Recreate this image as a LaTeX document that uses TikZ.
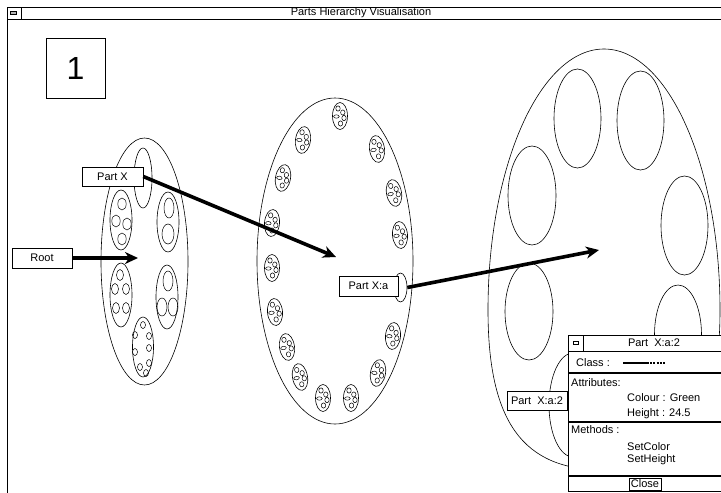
\documentclass[tikz,border=0pt]{standalone}
\usepackage{fontspec}
\setmainfont{Liberation Sans}
\usetikzlibrary{arrows.meta,shapes.geometric}
\begin{document}
\begin{tikzpicture}[x=1pt,y=-1pt,
  every node/.style={font=\fontsize{11}{12}\selectfont},
  label box/.style={draw, fill=white, line width=0.6pt, minimum width=60pt,
    minimum height=19pt, inner sep=0pt},
  outline/.style={line width=0.6pt},
  thick arrow/.style={line width=3.6pt, -{Stealth[length=13pt,width=12pt,inset=4pt]}},
  cell/.pic={
    \draw[outline] (0,0) ellipse [x radius=7.5, y radius=13.5];
    \draw[line width=0.5pt] (-2,-7.5) ellipse [x radius=2.2, y radius=2.6];
    \draw[line width=0.5pt] (2.8,-3.5) ellipse [x radius=2.2, y radius=2.6];
    \draw[line width=0.5pt] (-3.6,0.5) ellipse [x radius=2.8, y radius=1.7];
    \draw[line width=0.5pt] (4,2) ellipse [x radius=2.2, y radius=2.6];
    \draw[line width=0.5pt] (0.5,7.5) ellipse [x radius=2.2, y radius=2.6];
  }]
\useasboundingbox (0,0) rectangle (721,493);
\clip (0,0) rectangle (721,493);

% window frame and title bar
\draw[outline] (7,7) -- (721,7);
\draw[outline] (7,19) -- (721,19);
\draw[outline] (7,7) -- (7,493);
\draw[outline] (21,7) -- (21,19);
\draw[line width=0.6pt, fill=gray!60] (10.5,11.5) rectangle (16.5,14);
\node (title) at (361,13) {Parts Hierarchy Visualisation};

% level number
\node[draw, line width=0.6pt, minimum width=59pt, minimum height=60pt, inner sep=0pt,
  font=\fontsize{32}{34}\selectfont] (level) at (75.5,68) {1};

% ---- root part ----
\draw[outline] (144.5,261.5) ellipse [x radius=43.5, y radius=123.5];
\draw[outline] (143,178) ellipse [x radius=9, y radius=30];
% upper left child
\draw[outline] (121,220) ellipse [x radius=11, y radius=30];
\foreach \p in {(122,204),(116,221),(127,224),(122,239)}
  \draw[line width=0.5pt] \p ellipse [x radius=4.2, y radius=6];
% upper right child
\draw[outline] (168,222) ellipse [x radius=11, y radius=30];
\draw[line width=0.5pt] (169,208) ellipse [x radius=5, y radius=10];
\draw[line width=0.5pt] (168,234) ellipse [x radius=6, y radius=10];
% middle left child
\draw[outline] (121,295) ellipse [x radius=11, y radius=32];
\foreach \p in {(120,275),(115,289),(126,289),(116,308),(126,308)}
  \draw[line width=0.5pt] \p ellipse [x radius=3.5, y radius=5.5];
% middle right child
\draw[outline] (167,297) ellipse [x radius=11, y radius=32];
\draw[line width=0.5pt] (168,281) ellipse [x radius=5, y radius=10];
\draw[line width=0.5pt] (162,307) ellipse [x radius=5, y radius=9];
\draw[line width=0.5pt] (173,307) ellipse [x radius=5, y radius=9];
% bottom child
\draw[outline] (143,347) ellipse [x radius=10.5, y radius=30];
\foreach \p in {(143,325),(135,335),(149,336),(135,352),(149,348),(149,363),(140,367),(146,373)}
  \draw[line width=0.5pt] \p ellipse [x radius=2.5, y radius=3.5];

% ---- Part X ----
\draw[outline] (335,261) ellipse [x radius=78, y radius=163];
\foreach \x/\y/\a in {340/116/0, 303/140/-8, 377/149/8, 283/178/-10, 394/193/10,
  272/223/-5, 400/235/5, 272/268/0, 275/312/5, 287/347/8, 300/377/10,
  323/398/0, 351/398/0, 378/373/-10, 393/336/-5}
  \pic[rotate=\a] at (\x,\y) {cell};
\node[draw, fill=white, line width=0.6pt, ellipse, minimum width=13pt, minimum height=29pt,
  inner sep=0pt] (xa) at (400.5,287.5) {};

% ---- Part X:a ----
\draw[outline] (488,310) arc [start angle=180, end angle=360, x radius=116, y radius=261]
  .. controls (720,422) and (685,470) .. (604,470)
  .. controls (523,470) and (488,422) .. (488,310);
\draw[outline] (577.5,118.5) ellipse [x radius=23.5, y radius=49.5];
\draw[outline] (640.5,120.5) ellipse [x radius=23.5, y radius=49.5];
\draw[outline] (532,195.5) ellipse [x radius=24, y radius=49.5];
\draw[outline] (684.5,225.5) ellipse [x radius=23.5, y radius=49.5];
\draw[outline] (529,311.5) ellipse [x radius=24, y radius=48.5];
\draw[outline] (678,334.5) ellipse [x radius=23.5, y radius=49.5];
\draw[outline] (573,405) ellipse [x radius=24, y radius=52];

% ---- labels ----
\node[label box, minimum height=20pt] (root) at (42,258) {Root};
\node[label box, minimum width=61pt] (partx) at (112.5,176.5) {Part X};
\node[label box, minimum width=59pt, minimum height=20pt] (partxa) at (368.5,286) {Part X:a};
\node[label box] (partxa2) at (537,400.5) {Part\ \ X:a:2};

% ---- connectors ----
\coordinate (rootT) at (138,258);
\coordinate (partxT) at (336,257);
\coordinate (partxaT) at (599,250);
\draw[thick arrow] (root.east) -- (rootT);
\draw[thick arrow] (partx.east) -- (partxT);
\draw[thick arrow] (xa.east) -- (partxaT);

% ---- inspector window ----
\draw[outline, fill=white] (568,335) rectangle (730,491);
\draw[outline] (568,351) -- (730,351);
\draw[outline] (583,335) -- (583,351);
\draw[line width=0.5pt] (573,341) rectangle (578,344);
\node (wtitle) at (654,343) {Part\ \ X:a:2};
\node[anchor=west, inner sep=0pt] (cls) at (576,363) {Class :};
\coordinate (dashA) at (623,363);
\coordinate (dashB) at (647,363);
\coordinate (dashC) at (666,363);
\draw[line width=1.2pt] (dashA) -- (dashB);
\draw[line width=1.2pt, dash pattern=on 2pt off 1.2pt] (dashB) -- (dashC);
\draw[line width=1.4pt] (568,373) -- (730,373);
\node[anchor=west, inner sep=0pt] (attr) at (571,383) {Attributes:};
\node[anchor=west, inner sep=0pt] (col) at (627,398) {Colour : Green};
\node[anchor=west, inner sep=0pt] (hgt) at (627,414) {Height : 24.5};
\draw[line width=1.2pt] (568,422) -- (730,422);
\node[anchor=west, inner sep=0pt] (meth) at (571,430) {Methods :};
\node[anchor=west, inner sep=0pt] (setc) at (627,447) {SetColor};
\node[anchor=west, inner sep=0pt] (seth) at (627,460) {SetHeight};
\draw[line width=2pt] (568,476) -- (730,476);
\node[draw, line width=0.8pt, minimum width=32pt, minimum height=12pt, inner sep=0pt] (close) at (645,484) {Close};
\end{tikzpicture}
\end{document}
